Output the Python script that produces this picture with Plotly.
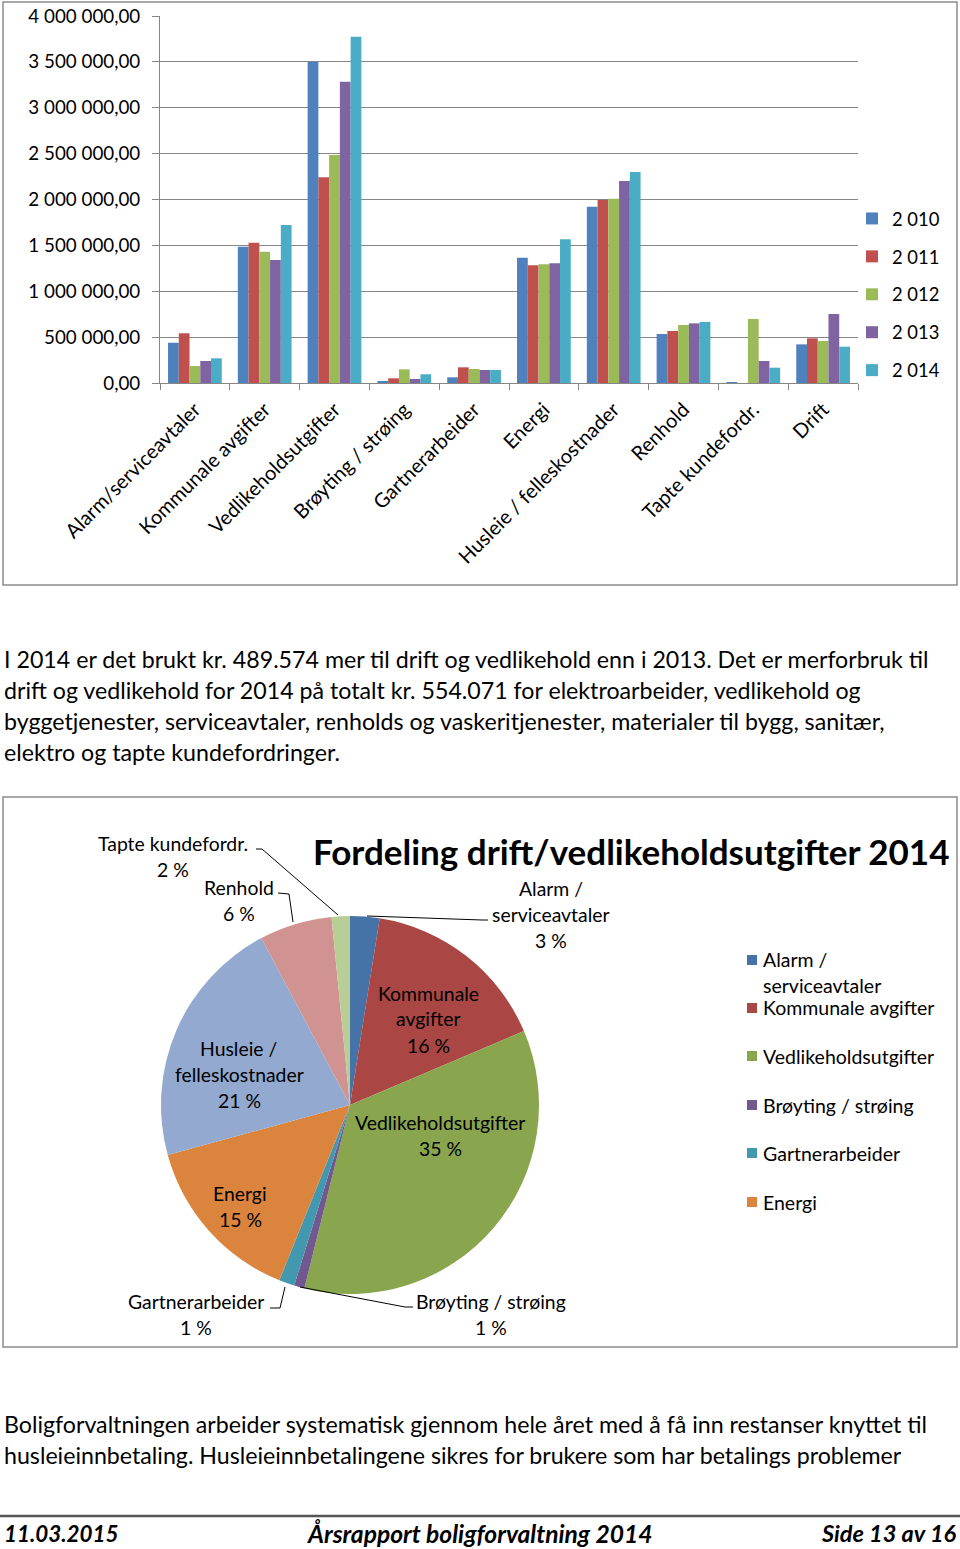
import plotly.graph_objects as go

W, H = 960, 1549

# ---------------- data ----------------
categories = ["Alarm/serviceavtaler", "Kommunale avgifter", "Vedlikeholdsutgifter",
              "Brøyting / strøing", "Gartnerarbeider", "Energi",
              "Husleie / felleskostnader", "Renhold", "Tapte kundefordr.", "Drift"]
years = ["2 010", "2 011", "2 012", "2 013", "2 014"]
v2010 = [439000, 1486000, 3502000, 22000, 62000, 1366000, 1922000, 534000, 8000, 421000]
v2011 = [542000, 1529000, 2242000, 51000, 171000, 1283000, 1994000, 567000, 0, 487000]
v2012 = [185000, 1431000, 2485000, 149000, 153000, 1294000, 2009000, 632000, 698000, 458000]
v2013 = [240000, 1341000, 3284000, 44000, 142000, 1305000, 2202000, 650000, 240000, 752000]
v2014 = [269000, 1722000, 3775000, 95000, 142000, 1566000, 2300000, 665000, 167000, 396000]
series = [v2010, v2011, v2012, v2013, v2014]
bar_colors = ["#4F81BD", "#C0504D", "#9BBB59", "#8064A2", "#4BACC6"]

y_tickvals = [0, 500000, 1000000, 1500000, 2000000, 2500000, 3000000, 3500000, 4000000]
y_ticktext = ["0,00", "500 000,00", "1 000 000,00", "1 500 000,00", "2 000 000,00",
              "2 500 000,00", "3 000 000,00", "3 500 000,00", "4 000 000,00"]

pie_labels = ["Alarm / serviceavtaler", "Kommunale avgifter", "Vedlikeholdsutgifter",
              "Brøyting / strøing", "Gartnerarbeider", "Energi",
              "Husleie / felleskostnader", "Renhold", "Tapte kundefordr."]
pie_label_lines = [["Alarm /", "serviceavtaler"], ["Kommunale", "avgifter"], ["Vedlikeholdsutgifter"],
                   ["Brøyting / strøing"], ["Gartnerarbeider"], ["Energi"],
                   ["Husleie /", "felleskostnader"], ["Renhold"], ["Tapte kundefordr."]]
pie_values = v2014[:9]
pie_colors = ["#4572A7", "#AA4643", "#89A54E", "#71588F", "#4198AF", "#DB843D",
              "#93A9CF", "#D19392", "#B9CD96"]
pie_legend_lines = [["Alarm /", "serviceavtaler"], ["Kommunale avgifter"], ["Vedlikeholdsutgifter"],
                    ["Brøyting / strøing"], ["Gartnerarbeider"], ["Energi"]]
pie_title = "Fordeling drift/vedlikeholdsutgifter 2014"

para1 = ["I 2014 er det brukt kr. 489.574 mer til drift og vedlikehold enn i 2013. Det er merforbruk til",
         "drift og vedlikehold for 2014 på totalt kr. 554.071 for elektroarbeider, vedlikehold og",
         "byggetjenester, serviceavtaler, renholds og vaskeritjenester, materialer til bygg, sanitær,",
         "elektro og tapte kundefordringer."]
para2 = ["Boligforvaltningen arbeider systematisk gjennom hele året med å få inn restanser knyttet til",
         "husleieinnbetaling. Husleieinnbetalingene sikres for brukere som har betalings problemer"]
footer = ["11.03.2015", "Årsrapport boligforvaltning 2014", "Side 13 av 16"]

FONT = "Lato"

def px(x):
    return x / W

def py(y):
    return 1 - y / H

fig = go.Figure()

# ---------------- bar chart ----------------
for name, vals, col in zip(years, series, bar_colors):
    fig.add_trace(go.Bar(x=categories, y=vals, name=name, marker=dict(color=col, line=dict(width=0)),
                         legendgroup=name, xaxis="x", yaxis="y"))

grid_col = "#868686"
fig.update_layout(
    xaxis=dict(domain=[px(160), px(858)], anchor="y", tickangle=-45, type="category",
               tickfont=dict(family=FONT, size=20, color="black"),
               showline=True, linecolor=grid_col, linewidth=1, ticks="outside", ticklen=6,
               tickcolor=grid_col, tickson="boundaries", showgrid=False, automargin=False,
               ticklabelstandoff=6),
    yaxis=dict(domain=[py(383), py(16)], anchor="x", range=[0, 4000000],
               tickvals=y_tickvals, ticktext=y_ticktext,
               tickfont=dict(family=FONT, size=18.8, color="black"),
               showline=True, linecolor=grid_col, linewidth=1, ticks="outside", ticklen=7,
               tickcolor=grid_col, showgrid=True, gridcolor=grid_col, gridwidth=1,
               zeroline=False, ticklabelstandoff=8, automargin=False),
    barmode="group", bargap=0.23, bargroupgap=0,
    legend=dict(x=px(852), y=py(200), xanchor="left", yanchor="top",
                font=dict(family=FONT, size=18.4, color="black"),
                tracegroupgap=11, bgcolor="rgba(0,0,0,0)", itemwidth=30),
)

# ---------------- pie chart ----------------
fig.add_trace(go.Pie(values=pie_values, labels=pie_labels, sort=False, direction="clockwise",
                     rotation=0, marker=dict(colors=pie_colors, line=dict(width=0)),
                     textinfo="none", showlegend=False,
                     domain=dict(x=[px(161), px(539)], y=[py(1294), py(916)])))

total = sum(pie_values)
pcts = [round(100 * v / total) for v in pie_values]

annotations = []
shapes = []

def text(x, y, s, size, anchor="center", weight="normal", style="normal", color="black"):
    annotations.append(dict(x=px(x), y=py(y), xref="paper", yref="paper", text=s, showarrow=False,
                            xanchor=anchor, yanchor="middle",
                            font=dict(family=FONT, size=size, color=color, weight=weight, style=style)))

# label anchor (centre of first line) for each slice
label_pos = [(551, 888), (428, 993), (440, 1122), (491, 1301), (196, 1301),
             (240, 1193), (239, 1048), (239, 887), (173, 843)]
for lines, pct, (lx, ly) in zip(pie_label_lines, pcts, label_pos):
    for i, ln in enumerate(lines + [f"{pct} %"]):
        text(lx, ly + 26 * i, ln, 19.4)

leaders = [
    [(367, 916), (482, 920), (488, 920)],
    [(256, 849), (262, 849), (338, 915)],
    [(278, 893), (289, 894), (293, 922)],
    [(270, 1308), (280, 1308), (285, 1287)],
    [(413, 1307), (405, 1307), (300, 1287)],
]
for pts in leaders:
    path = "M " + " L ".join(f"{px(a)},{py(b)}" for a, b in pts)
    shapes.append(dict(type="path", xref="paper", yref="paper", path=path,
                       line=dict(color="black", width=1)))

# pie title
text(631, 851, f"<b>{pie_title}</b>", 35)

# pie legend (first six entries as in original)
leg_y = [960, 1008, 1056, 1105, 1153, 1202]
for lines, col, ly in zip(pie_legend_lines, pie_colors, leg_y):
    shapes.append(dict(type="rect", xref="paper", yref="paper", x0=px(747), x1=px(757),
                       y0=py(ly - 5), y1=py(ly + 5), fillcolor=col, line=dict(width=0)))
    for i, ln in enumerate(lines):
        text(761, ly + 25 * i, ln, 19.5, anchor="left")

# ---------------- page text ----------------
for i, ln in enumerate(para1):
    text(2, 659 + 31 * i, ln, 23.2, anchor="left")
for i, ln in enumerate(para2):
    text(2, 1424 + 31 * i, ln, 23.2, anchor="left")

text(2, 1533, footer[0], 22.4, anchor="left", weight="bold", style="italic")
text(480, 1533, footer[1], 24.6, anchor="center", weight="bold", style="italic")
text(959, 1533, footer[2], 23.5, anchor="right", weight="bold", style="italic")

# boxes and footer rule
box_col = "#8C8C8C"
shapes.append(dict(type="rect", xref="paper", yref="paper", x0=px(3), x1=px(957), y0=py(585), y1=py(2),
                   line=dict(color=box_col, width=1.5)))
shapes.append(dict(type="rect", xref="paper", yref="paper", x0=px(3), x1=px(957), y0=py(1347), y1=py(797),
                   line=dict(color=box_col, width=1.5)))
shapes.append(dict(type="line", xref="paper", yref="paper", x0=0, x1=1, y0=py(1516), y1=py(1516),
                   line=dict(color="#555555", width=2.5)))

fig.update_layout(width=W, height=H, margin=dict(l=0, r=0, t=0, b=0, pad=0, autoexpand=False),
                  paper_bgcolor="white", plot_bgcolor="white",
                  annotations=annotations, shapes=shapes, showlegend=True)

fig.write_html("out.html", config={"displayModeBar": False},
               post_script="document.body.style.margin='0';document.body.style.overflow='hidden';")
